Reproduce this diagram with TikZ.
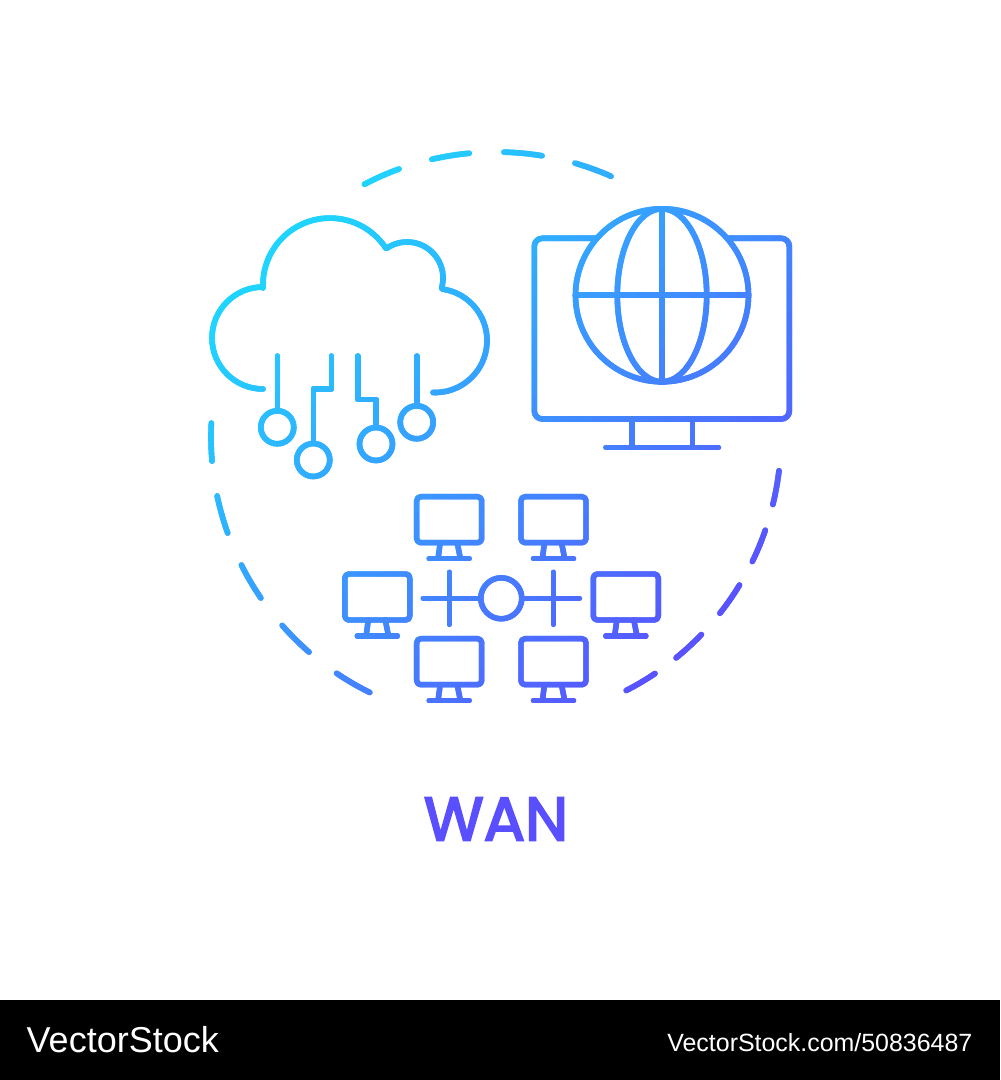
\documentclass[tikz,border=0pt]{standalone}
\usepackage{fontspec}
\newfontfamily\titlefont[FakeBold=3.2]{Poppins}
\newfontfamily\barfont{Liberation Sans}
\definecolor{gradA}{HTML}{1FD5FF}
\definecolor{gradB}{HTML}{5A4FFF}
\definecolor{labelblue}{HTML}{5A4FFF}
\tikzset{
  px/.style={x=1pt,y=1pt,xscale=.75,yscale=-.75},
  icon/.style={draw=bandcolor,line width=4.2pt,line cap=round,line join=round},
  iconthin/.style={icon,line width=4.1pt}
}
\newcommand{\smallmon}[2]{%
  \draw[iconthin,rounded corners=3pt] (#1-32.5,#2) rectangle (#1+32.5,#2+46);
  \draw[iconthin] (#1-9,#2+46) -- (#1-11,#2+61);
  \draw[iconthin] (#1+8,#2+46) -- (#1+11,#2+61);
  \draw[iconthin] (#1-20,#2+62) -- (#1+20,#2+62);
}
\newcommand{\wanicons}{%
  % cloud
  \draw[icon] (263,389) arc[start angle=90,end angle=270,radius=51]
    -- (263,288) arc[start angle=177.5,end angle=326.5,radius=67]
    -- (386.4,248.5) arc[start angle=235,end angle=375.5,radius=36]
    -- (442,289) arc[start angle=277.7,end angle=452.2,radius=52];
  \draw[icon] (277.3,356) -- (277.3,411);
  \draw[icon] (277.3,427.3) circle[radius=16.5];
  \draw[icon] (331.3,356) -- (331.3,388.7) -- (313.3,388.7) -- (313.3,443.5);
  \draw[icon] (313.3,460) circle[radius=16.5];
  \draw[icon] (357.7,356) -- (357.7,399.3) -- (376,399.3) -- (376,427.5);
  \draw[icon] (376,444) circle[radius=16.5];
  \draw[icon] (416.7,356) -- (416.7,405.8);
  \draw[icon] (416.7,422.3) circle[radius=16.5];
  % big monitor
  \draw[icon,rounded corners=6pt] (595,238.3) -- (534.3,238.3) -- (534.3,419) -- (789.3,419) -- (789.3,238.3) -- (728,238.3);
  \draw[icon] (631.7,419) -- (631.7,447.3);
  \draw[icon] (692.3,419) -- (692.3,447.3);
  \draw[icon] (606,447.3) -- (718.3,447.3);
  % globe
  \draw[icon] (662,295.3) circle[radius=86.5];
  \draw[icon] (662,295.3) ellipse[x radius=44.7,y radius=86.5];
  \draw[icon] (662,209) -- (662,382);
  \draw[icon] (575.5,295.3) -- (748.5,295.3);
  % small monitors
  \smallmon{449.2}{496.7}
  \smallmon{553.5}{496.7}
  \smallmon{377.3}{574}
  \smallmon{625.8}{574}
  \smallmon{449.2}{638.7}
  \smallmon{553.5}{638.7}
  % hub
  \draw[iconthin] (501.3,598.3) circle[radius=20.5];
  \draw[iconthin] (423.3,598.3) -- (480.8,598.3);
  \draw[iconthin] (521.8,598.3) -- (579.3,598.3);
  \draw[iconthin] (449.3,572.3) -- (449.3,624.3);
  \draw[iconthin] (553.3,572.3) -- (553.3,624.3);
  % dashed ring
  \foreach \a/\b in {242.5/250.1,257/264.6,271.6/279.3,286.1/293.8,182.8/175.15,168.06/160.3,153.3/145.6,138.6/131,124/116.3,6.8/13.7,19.1/25.9,31.3/38.2,43.9/50.8,56.1/62.8}
    \draw[icon] ({496+285*cos(\a)},{437+285*sin(\a)}) arc[start angle=\a,end angle=\b,radius=285];
}
\begin{document}
\begin{tikzpicture}[px]
  \useasboundingbox (0,0) rectangle (1000,1080);
  \fill[white] (0,0) rectangle (1000,1080);
  % diagonal gradient: the icons are repainted in overlapping clipped bands across x+y,
  % every point being covered by exactly two bands so stroke edges stay even
  \foreach \v in {490,500,...,1350}{
    \pgfmathtruncatemacro{\mixval}{max(0,min(100,100-(\v-540)/8.1))}
    \colorlet{bandcolor}{gradA!\mixval!gradB}
    \begin{scope}
      \pgfmathsetmacro{\vhi}{\v+20}
      \clip (100,\v-100) -- (900,\v-900) -- (900,\vhi-900) -- (100,\vhi-100) -- cycle;
      \wanicons
    \end{scope}
  }
  \node[text=labelblue,font=\titlefont\fontsize{46}{46}\selectfont] (title) at (496,819) {WAN};
  \fill[black] (0,1000) rectangle (1000,1080);
  \node[text=white,font=\barfont\fontsize{27}{27}\selectfont,anchor=west] (brand) at (22,1040) {VectorStock};
  \node[text=white,font=\barfont\fontsize{18.7}{18.7}\selectfont,anchor=east] (ref) at (977,1043) {VectorStock.com/50836487};
\end{tikzpicture}
\end{document}
